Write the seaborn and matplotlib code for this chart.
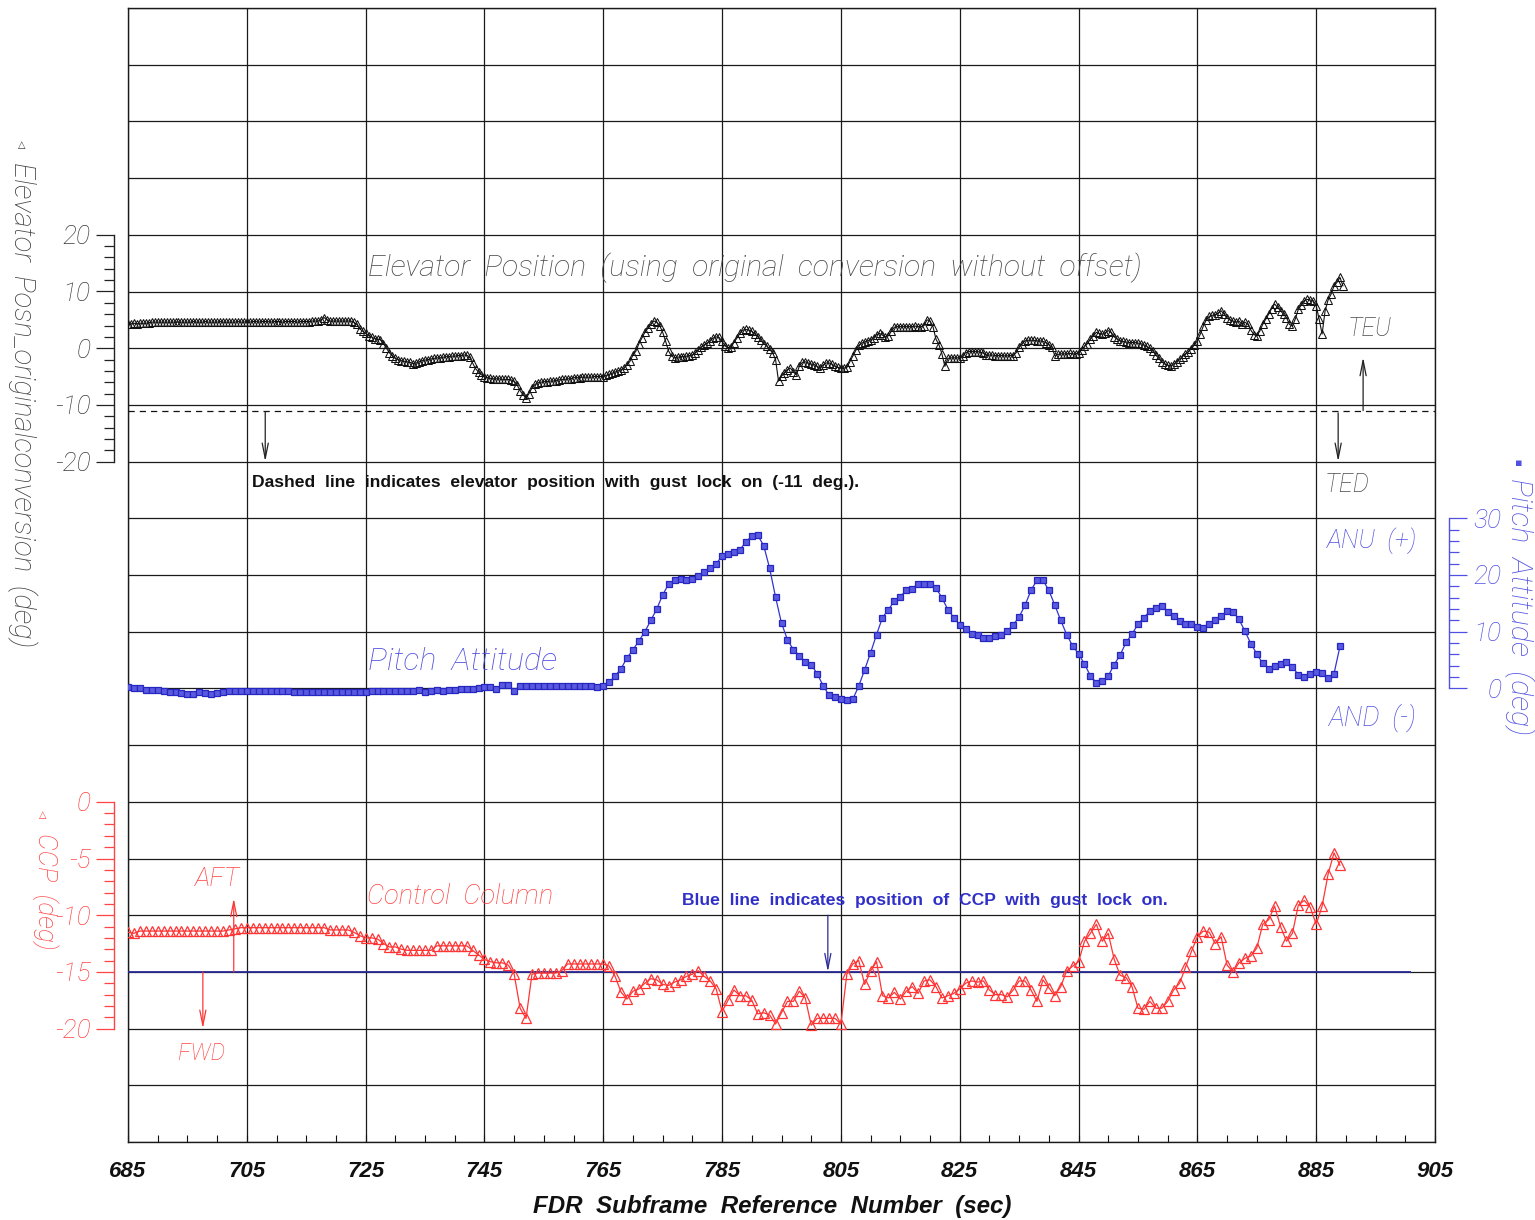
import numpy as np
import matplotlib
matplotlib.use("Agg")
import matplotlib.pyplot as plt
from matplotlib.ticker import FixedLocator
import seaborn as sns

# ---------------- data ----------------
T0 = 685                 # first FDR subframe (sec)
ELEV_RATE = 2            # elevator samples per second
ELEVATOR = [
    4.3, 4.3, 4.4, 4.3, 4.4, 4.4, 4.4, 4.5, 4.6, 4.6, 4.6, 4.6, 4.6, 4.6, 4.6, 4.6, 4.6, 4.6, 4.6, 4.6,
    4.6, 4.6, 4.7, 4.6, 4.6, 4.6, 4.7, 4.6, 4.6, 4.6, 4.6, 4.7, 4.6, 4.6, 4.6, 4.6, 4.6, 4.7, 4.6, 4.6,
    4.7, 4.6, 4.7, 4.7, 4.6, 4.7, 4.7, 4.7, 4.6, 4.7, 4.7, 4.7, 4.6, 4.7, 4.7, 4.7, 4.7, 4.6, 4.7, 4.7,
    4.7, 4.7, 4.8, 4.8, 4.8, 5.0, 5.4, 5.0, 4.8, 4.8, 4.8, 4.8, 4.8, 4.8, 4.8, 4.8, 4.6, 4.2, 3.4, 3.0,
    2.6, 2.2, 2.0, 1.7, 1.6, 1.5, 0.8, 0.0, -0.8, -1.4, -1.8, -2.0, -2.2, -2.3, -2.4, -2.5, -2.7, -2.6, -2.4, -2.2,
    -2.1, -2.0, -1.9, -1.8, -1.7, -1.7, -1.6, -1.5, -1.5, -1.4, -1.4, -1.3, -1.3, -1.2, -1.2, -1.6, -2.6, -3.6, -4.2, -4.7,
    -5.0, -5.2, -5.3, -5.4, -5.4, -5.4, -5.5, -5.5, -5.5, -5.6, -5.8, -6.5, -7.5, -8.2, -8.8, -8.0, -7.0, -6.4, -6.1, -6.0,
    -5.9, -5.9, -5.8, -5.8, -5.7, -5.6, -5.5, -5.5, -5.4, -5.4, -5.2, -5.2, -5.2, -5.1, -5.1, -5.1, -5.1, -5.0, -5.0, -5.0,
    -5.0, -4.8, -4.6, -4.4, -4.2, -4.0, -3.8, -3.5, -3.0, -2.3, -1.2, -0.5, 0.8, 1.8, 2.8, 3.5, 4.2, 4.8, 4.6, 4.0,
    2.8, 1.2, -0.5, -1.4, -1.7, -1.6, -1.5, -1.5, -1.4, -1.3, -1.2, -0.8, -0.3, 0.2, 0.6, 0.9, 1.3, 1.8, 2.0, 1.9,
    1.2, 0.4, 0.1, 0.2, 1.0, 1.8, 2.6, 3.2, 3.3, 3.2, 3.0, 2.5, 2.0, 1.4, 0.8, 0.4, -0.2, -0.8, -2.0, -5.8,
    -4.9, -4.4, -3.8, -3.5, -4.2, -4.7, -3.2, -2.5, -2.4, -2.6, -2.8, -2.9, -3.2, -3.5, -3.0, -2.6, -2.6, -2.8, -3.2, -3.4,
    -3.5, -3.5, -3.4, -2.4, -1.4, -0.4, 0.5, 0.9, 1.1, 1.3, 1.5, 1.8, 2.4, 2.6, 2.3, 2.0, 2.2, 3.0, 3.7, 3.8,
    3.8, 3.8, 3.8, 3.8, 3.8, 3.9, 3.8, 3.8, 4.0, 5.0, 4.8, 3.8, 1.6, 0.6, -1.0, -3.2, -1.8, -1.7, -1.7, -1.7,
    -1.7, -1.4, -0.8, -0.6, -0.6, -0.6, -0.6, -0.7, -0.9, -1.2, -1.2, -1.2, -1.3, -1.3, -1.3, -1.35, -1.35, -1.3, -1.3, -0.8,
    0.2, 0.8, 1.3, 1.4, 1.4, 1.4, 1.3, 1.3, 1.2, 1.0, 0.6, 0.2, -1.3, -1.1, -1.0, -1.0, -1.0, -0.9, -1.0, -1.0,
    -0.8, -0.3, 0.3, 0.8, 1.6, 2.2, 2.8, 2.6, 2.5, 2.7, 3.1, 2.8, 2.0, 1.6, 1.3, 1.2, 1.1, 1.0, 1.0, 1.0,
    0.9, 0.8, 0.6, 0.3, 0.0, -0.5, -1.2, -1.8, -2.4, -2.8, -3.0, -3.1, -2.8, -2.4, -1.9, -1.5, -1.0, -0.6, -0.1, 0.6,
    1.3, 2.5, 3.9, 5.0, 5.6, 5.8, 5.9, 6.2, 6.6, 6.0, 5.3, 5.0, 4.8, 4.6, 4.8, 4.2, 4.6, 4.2, 3.2, 2.4,
    2.2, 3.0, 4.2, 5.1, 6.0, 7.0, 7.8, 7.2, 6.6, 6.0, 5.4, 4.2, 3.9, 5.2, 6.9, 7.6, 8.4, 8.6, 8.5, 8.4,
    7.5, 5.1, 2.5, 6.6, 8.5, 9.5, 11.0, 11.6, 12.5, 11.0,
]
PITCH = [
    0.2, 0.1, 0.0, -0.2, -0.3, -0.3, -0.5, -0.6, -0.6, -0.8,
    -0.9, -0.9, -0.6, -0.8, -0.9, -0.8, -0.6, -0.5, -0.5, -0.5,
    -0.4, -0.4, -0.4, -0.4, -0.5, -0.5, -0.4, -0.5, -0.6, -0.6,
    -0.6, -0.6, -0.6, -0.6, -0.6, -0.6, -0.6, -0.6, -0.6, -0.6,
    -0.6, -0.5, -0.5, -0.5, -0.5, -0.5, -0.5, -0.4, -0.5, -0.3,
    -0.6, -0.4, -0.3, -0.5, -0.2, -0.3, -0.1, -0.1, -0.1, 0.0,
    0.3, 0.2, -0.1, 0.6, 0.6, -0.4, 0.5, 0.5, 0.5, 0.5,
    0.5, 0.5, 0.4, 0.4, 0.4, 0.4, 0.4, 0.4, 0.4, 0.2,
    0.4, 1.1, 2.2, 3.5, 5.4, 6.8, 8.4, 10.0, 12.0, 14.0,
    16.5, 18.4, 19.1, 19.3, 19.1, 19.3, 19.8, 20.5, 21.2, 22.0,
    23.3, 23.7, 24.0, 24.4, 25.9, 26.8, 27.0, 25.2, 21.2, 16.1,
    11.5, 8.6, 6.8, 5.8, 4.7, 4.2, 2.6, 0.5, -1.2, -1.6,
    -1.9, -2.1, -1.9, 0.4, 3.3, 6.3, 9.5, 12.5, 13.9, 15.4,
    16.2, 17.3, 17.6, 18.5, 18.5, 18.5, 17.7, 16.0, 13.9, 12.5,
    11.2, 10.5, 9.6, 9.5, 8.9, 8.9, 9.2, 9.5, 10.1, 11.2,
    12.6, 14.7, 17.3, 19.1, 19.1, 17.3, 14.7, 12.0, 9.5, 7.5,
    6.1, 4.3, 2.2, 1.0, 1.3, 2.2, 4.2, 5.9, 8.1, 9.6,
    11.3, 12.5, 13.6, 14.2, 14.6, 13.5, 12.7, 11.9, 11.3, 11.3,
    10.9, 10.7, 11.3, 12.1, 12.7, 13.6, 13.5, 12.2, 10.1, 7.9,
    6.1, 4.4, 3.5, 4.0, 4.3, 4.6, 3.8, 2.4, 2.0, 2.5,
    2.9, 2.7, 1.8, 2.6, 7.4,
]
CCP = [
    -11.5, -11.6, -11.4, -11.4, -11.4, -11.4, -11.4, -11.4, -11.4, -11.4,
    -11.4, -11.4, -11.4, -11.4, -11.4, -11.4, -11.4, -11.3, -11.2, -11.1,
    -11.1, -11.1, -11.1, -11.1, -11.1, -11.1, -11.1, -11.1, -11.1, -11.1,
    -11.1, -11.1, -11.1, -11.1, -11.3, -11.3, -11.3, -11.3, -11.5, -11.8,
    -12.0, -12.0, -12.1, -12.5, -12.8, -12.8, -13.0, -13.1, -13.1, -13.1,
    -13.1, -13.1, -12.7, -12.7, -12.7, -12.7, -12.7, -12.7, -13.1, -13.5,
    -13.9, -14.1, -14.2, -14.2, -14.4, -15.2, -18.2, -19.1, -15.2, -15.1,
    -15.1, -15.1, -15.1, -14.9, -14.3, -14.3, -14.3, -14.3, -14.3, -14.3,
    -14.3, -14.5, -15.4, -16.8, -17.4, -16.7, -16.5, -16.0, -15.6, -15.7,
    -16.1, -16.2, -15.9, -15.7, -15.4, -15.2, -14.9, -15.4, -15.8, -16.5,
    -18.5, -17.5, -16.6, -17.1, -17.1, -17.5, -18.7, -18.6, -18.8, -19.6,
    -18.6, -17.6, -17.6, -16.7, -17.3, -19.7, -19.1, -19.1, -19.1, -19.1,
    -19.6, -15.2, -14.3, -14.0, -16.1, -14.9, -14.1, -17.1, -17.3, -16.8,
    -17.4, -16.7, -16.3, -16.9, -15.8, -15.7, -16.3, -17.3, -17.1, -16.9,
    -16.5, -16.0, -15.8, -15.9, -15.8, -16.6, -17.0, -17.0, -17.2, -16.6,
    -15.8, -15.8, -16.6, -17.6, -15.7, -16.4, -17.1, -16.3, -14.9, -14.5,
    -14.1, -12.3, -11.6, -10.8, -12.3, -11.6, -13.9, -15.3, -15.5, -16.3,
    -18.2, -18.3, -17.6, -18.2, -18.2, -17.6, -16.6, -16.0, -14.6, -13.2,
    -11.9, -11.4, -11.5, -12.5, -11.9, -14.4, -15.0, -14.2, -13.8, -13.6,
    -12.9, -10.8, -10.4, -9.2, -11.0, -12.3, -11.6, -9.1, -8.7, -9.3,
    -10.8, -9.2, -6.4, -4.5, -5.6,
]
X_TICKS = [685, 705, 725, 745, 765, 785, 805, 825, 845, 865, 885, 905]
ELEV_TICKS = [-20, -10, 0, 10, 20]
PITCH_TICKS = [0, 10, 20, 30]
CCP_TICKS = [-20, -15, -10, -5, 0]
GUST_ELEV = -11          # elevator with gust lock on (deg)
GUST_CCP = -15           # CCP with gust lock on (deg)
GUST_CCP_END = 901

# ---------------- style ----------------
plt.rcParams['axes.unicode_minus'] = False
plt.rcParams['font.family'] = ['Roboto', 'DejaVu Sans']
THIN = dict(family=['Roboto', 'DejaVu Sans'], fontweight='light', fontstyle='italic')
BOLD = dict(family=['Liberation Sans', 'DejaVu Sans'], fontweight='bold')

GRAY = '#3c3c3c'
BLUE = '#3434d0'
BLUE_T = '#5050e2'
RED = '#ff3535'
RED_T = '#ff4444'
NAVY = '#2a2a96'

W, H = 1535, 1220
fig = plt.figure(figsize=(W / 100, H / 100), dpi=100)
L, R, T, B = 128, 1435, 8, 1142
rect = [L / W, 1 - B / H, (R - L) / W, (B - T) / H]
XLIM = (685, 905)

# grid axes
ax = fig.add_axes(rect)
ax.set_xlim(*XLIM)
ax.set_ylim(0, 20)
ax.set_xticks(X_TICKS)
ax.set_xticklabels([str(v) for v in X_TICKS], fontsize=16, fontstyle='italic',
                   **BOLD)
ax.xaxis.set_minor_locator(FixedLocator(list(range(XLIM[0], XLIM[1] + 1, 5))))
ax.tick_params(axis='x', which='both', direction='in', length=5, width=0.8,
               pad=14, colors='#111')
ax.set_yticks(range(0, 21))
ax.tick_params(axis='y', length=0, labelleft=False)
ax.grid(True, color='#1a1a1a', lw=0.9)
for s in ax.spines.values():
    s.set_color('#1a1a1a')
    s.set_linewidth(1.0)


def overlay(ylim):
    a = fig.add_axes(rect)
    a.patch.set_visible(False)
    a.set_xlim(*XLIM)
    a.set_ylim(*ylim)
    a.set_xticks([])
    for s in a.spines.values():
        s.set_visible(False)
    return a


def style_yaxis(a, side, bounds, major, minor, color, tcolor):
    sp = a.spines[side]
    sp.set_visible(True)
    sp.set_position(('outward', 10))
    sp.set_bounds(*bounds)
    sp.set_color(color)
    sp.set_linewidth(1.0)
    if side == 'right':
        a.yaxis.tick_right()
    else:
        a.yaxis.tick_left()
    a.set_yticks(major)
    a.yaxis.set_minor_locator(FixedLocator(minor))
    a.set_yticklabels([str(v) for v in major], fontsize=19, color=tcolor, **THIN)
    a.tick_params(axis='y', which='major', length=13, width=0.9, color=color,
                  direction='out', pad=4 if side == 'left' else 25)
    a.tick_params(axis='y', which='minor', length=7, width=0.9, color=color,
                  direction='out')
    if side == 'right':
        for lab in a.get_yticklabels():
            lab.set_horizontalalignment('right')


# elevator
axE = overlay((-140, 60))
style_yaxis(axE, 'left', (-20, 20), ELEV_TICKS, list(range(-20, 21, 2)), '#222', GRAY)
elev_t = T0 + np.arange(len(ELEVATOR)) / ELEV_RATE
sns.lineplot(x=elev_t, y=ELEVATOR, ax=axE, color='#111', lw=0.8, marker='^',
             markersize=5.2, markerfacecolor='none', markeredgecolor='#111',
             markeredgewidth=0.75, errorbar=None)
axE.axhline(GUST_ELEV, color='#111', lw=0.9, ls=(0, (5, 4)))

# pitch
axP = overlay((-80, 120))
style_yaxis(axP, 'right', (0, 30), PITCH_TICKS, list(range(0, 31, 2)), BLUE_T, BLUE_T)
pitch_t = T0 + np.arange(len(PITCH))
sns.lineplot(x=pitch_t, y=PITCH, ax=axP, color=BLUE, lw=0.9, marker='s',
             markersize=3.8, markerfacecolor='#5a5ae0', markeredgecolor='#2626c0',
             markeredgewidth=0.9, errorbar=None)

# control column position
axC = overlay((-30, 70))
style_yaxis(axC, 'left', (-20, 0), CCP_TICKS, list(range(-20, 1, 1)), RED_T, RED_T)
ccp_t = T0 + np.arange(len(CCP))
axC.hlines(GUST_CCP, XLIM[0], GUST_CCP_END, color=NAVY, lw=1.3)
sns.lineplot(x=ccp_t, y=CCP, ax=axC, color=RED, lw=0.9, marker='^',
             markersize=7.5, markerfacecolor='none', markeredgecolor=RED,
             markeredgewidth=0.9, errorbar=None)

for a, yl in ((axE, (-140, 60)), (axP, (-80, 120)), (axC, (-30, 70))):
    a.set_xlim(*XLIM)
    a.set_ylim(*yl)
    a.set_xlabel('')
    a.set_ylabel('')

# arrows
ARROW = dict(arrowstyle='->,head_length=1.1,head_width=0.22', lw=0.9,
             shrinkA=0, shrinkB=0)


def arrow(a, x, y0, y1, color):
    a.annotate('', xy=(x, y1), xytext=(x, y0),
               arrowprops=dict(ARROW, color=color))


arrow(axE, 708.1, GUST_ELEV - 0.3, -20, '#222')
arrow(axE, 892.9, GUST_ELEV, -1.6, '#222')
arrow(axE, 888.7, GUST_ELEV - 0.4, -20, '#222')
arrow(axC, 702.8, GUST_CCP, -8.5, RED)
arrow(axC, 697.6, GUST_CCP, -20, RED)
arrow(axC, 802.8, -10, GUST_CCP, NAVY)

# texts (pixel placement, widths fitted afterwards)
FIT = []


def ptext(x, y, s, width=None, length=None, ha='left', rot=0, **kw):
    t = fig.text(x / W, 1 - y / H, s, ha=ha, va='center', rotation=rot, **kw)
    FIT.append((t, width, length))
    return t


ptext(368, 268, "Elevator  Position  (using  original  conversion  without  offset)",
      width=777, color='#4a4a4a', fontsize=17, **THIN)
ptext(252, 483, "Dashed  line  indicates  elevator  position  with  gust  lock  on  (-11  deg.).",
      width=610, color='#111', fontsize=11.5, **BOLD)
ptext(1348, 329, "TEU", width=44, color='#4a4a4a', fontsize=17, **THIN)
ptext(1325, 485, "TED", width=45, color='#4a4a4a', fontsize=17, **THIN)
ptext(368, 662, "Pitch  Attitude", width=189, color=BLUE_T, fontsize=17, **THIN)
ptext(1327, 541, "ANU  (+)", width=90, color=BLUE_T, fontsize=17, **THIN)
ptext(1329, 718, "AND  (-)", width=88, color=BLUE_T, fontsize=17, **THIN)
ptext(367, 896, "Control  Column", width=186, color=RED_T, fontsize=17, **THIN)
ptext(195, 879, "AFT", width=45, color=RED_T, fontsize=17, **THIN)
ptext(178, 1054, "FWD", width=47, color=RED_T, fontsize=17, **THIN)
ptext(682, 900, "Blue  line  indicates  position  of  CCP  with  gust  lock  on.",
      width=488, color='#3030c8', fontsize=11.5, **BOLD)
ptext(533, 1207, "FDR  Subframe  Reference  Number  (sec)", width=480,
      color='#111', fontsize=16, fontstyle='italic', fontweight='bold',
      family=['Liberation Sans', 'DejaVu Sans'])

ptext(22, 405, "Elevator  Posn_originalconversion  (deg)", length=486, ha='center',
      rot=-90, color=GRAY, fontsize=16, **THIN)
ptext(22, 145, "\u25b3", ha='center', color=GRAY, fontsize=7)
ptext(1519, 607, "Pitch  Attitude  (deg)", length=257, ha='center', rot=-90,
      color=BLUE_T, fontsize=16, **THIN)
ptext(1519, 463, "\u25aa", ha='center', color=BLUE_T, fontsize=8)
ptext(45, 891, "CCP  (deg)", length=117, ha='center', rot=-90, color=RED_T,
      fontsize=16, **THIN)
ptext(43, 815, "\u25b3", ha='center', color=RED_T, fontsize=7)

fig.canvas.draw()
rend = fig.canvas.get_renderer()
for t, wpx, lpx in FIT:
    bb = t.get_window_extent(renderer=rend)
    if wpx:
        t.set_fontsize(t.get_fontsize() * wpx / bb.width)
    elif lpx:
        t.set_fontsize(t.get_fontsize() * lpx / bb.height)

fig.savefig("out.png", dpi=100)
